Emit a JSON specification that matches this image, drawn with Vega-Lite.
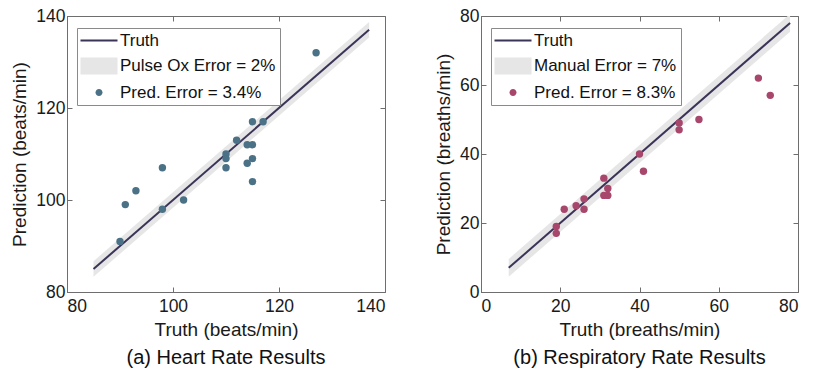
{
  "$schema": "https://vega.github.io/schema/vega-lite/v6.json",
  "background": "white",
  "padding": {"left": 10, "top": 6, "right": 5, "bottom": 5},
  "config": {
    "font": "Liberation Sans",
    "view": {"stroke": "#6e6e6e", "strokeWidth": 1},
    "axis": {
      "grid": false,
      "domainColor": "#6e6e6e",
      "tickColor": "#6e6e6e",
      "tickSize": -5,
      "labelFont": "Liberation Sans",
      "labelFontSize": 17.5,
      "labelColor": "#1a1a1a",
      "titleFont": "Liberation Sans",
      "titleFontSize": 19,
      "titleFontWeight": "normal",
      "titleColor": "#1a1a1a"
    },
    "axisX": {"labelPadding": 10, "titlePadding": 6},
    "axisY": {"labelPadding": 7, "titlePadding": 6},
    "legend": {
      "padding": 4,
      "strokeColor": "#8a8a8a",
      "fillColor": "white",
      "labelFont": "Liberation Sans",
      "labelFontSize": 17,
      "labelColor": "#111111",
      "symbolSize": 100,
      "symbolStrokeWidth": 2,
      "symbolOpacity": 1,
      "labelOffset": 22,
      "rowPadding": 4.5
    }
  },
  "datasets": {
    "hr": [
      {"truth": 127, "pred": 132, "series": "Pred. Error = 3.4%"},
      {"truth": 115, "pred": 117, "series": "Pred. Error = 3.4%"},
      {"truth": 117, "pred": 117, "series": "Pred. Error = 3.4%"},
      {"truth": 112, "pred": 113, "series": "Pred. Error = 3.4%"},
      {"truth": 114, "pred": 112, "series": "Pred. Error = 3.4%"},
      {"truth": 115, "pred": 112, "series": "Pred. Error = 3.4%"},
      {"truth": 110, "pred": 110, "series": "Pred. Error = 3.4%"},
      {"truth": 110, "pred": 109, "series": "Pred. Error = 3.4%"},
      {"truth": 110, "pred": 107, "series": "Pred. Error = 3.4%"},
      {"truth": 114, "pred": 108, "series": "Pred. Error = 3.4%"},
      {"truth": 115, "pred": 109, "series": "Pred. Error = 3.4%"},
      {"truth": 115, "pred": 104, "series": "Pred. Error = 3.4%"},
      {"truth": 98, "pred": 107, "series": "Pred. Error = 3.4%"},
      {"truth": 93, "pred": 102, "series": "Pred. Error = 3.4%"},
      {"truth": 91, "pred": 99, "series": "Pred. Error = 3.4%"},
      {"truth": 102, "pred": 100, "series": "Pred. Error = 3.4%"},
      {"truth": 98, "pred": 98, "series": "Pred. Error = 3.4%"},
      {"truth": 90, "pred": 91, "series": "Pred. Error = 3.4%"}
    ],
    "hrRef": [
      {"x": 85, "lo": 83.3, "hi": 86.7},
      {"x": 137, "lo": 135.3, "hi": 138.7}
    ],
    "rr": [
      {"truth": 70, "pred": 62, "series": "Pred. Error = 8.3%"},
      {"truth": 73, "pred": 57, "series": "Pred. Error = 8.3%"},
      {"truth": 50, "pred": 49, "series": "Pred. Error = 8.3%"},
      {"truth": 50, "pred": 47, "series": "Pred. Error = 8.3%"},
      {"truth": 55, "pred": 50, "series": "Pred. Error = 8.3%"},
      {"truth": 40, "pred": 40, "series": "Pred. Error = 8.3%"},
      {"truth": 41, "pred": 35, "series": "Pred. Error = 8.3%"},
      {"truth": 31, "pred": 33, "series": "Pred. Error = 8.3%"},
      {"truth": 32, "pred": 30, "series": "Pred. Error = 8.3%"},
      {"truth": 31, "pred": 28, "series": "Pred. Error = 8.3%"},
      {"truth": 32, "pred": 28, "series": "Pred. Error = 8.3%"},
      {"truth": 26, "pred": 27, "series": "Pred. Error = 8.3%"},
      {"truth": 26, "pred": 24, "series": "Pred. Error = 8.3%"},
      {"truth": 24, "pred": 25, "series": "Pred. Error = 8.3%"},
      {"truth": 21, "pred": 24, "series": "Pred. Error = 8.3%"},
      {"truth": 19, "pred": 19, "series": "Pred. Error = 8.3%"},
      {"truth": 19, "pred": 17, "series": "Pred. Error = 8.3%"}
    ],
    "rrRef": [
      {"x": 7, "lo": 4.4, "hi": 9.6},
      {"x": 78, "lo": 75.4, "hi": 80.6}
    ]
  },
  "spacing": 48,
  "resolve": {"scale": {"fill": "independent", "stroke": "independent", "shape": "independent"}, "legend": {"fill": "independent", "stroke": "independent", "shape": "independent"}},
  "hconcat": [
    {
      "width": 318,
      "height": 276,
      "title": {"text": "(a) Heart Rate Results", "orient": "bottom", "fontSize": 20, "fontWeight": "normal", "color": "#111111", "offset": 8, "font": "Liberation Sans"},
      "resolve": {"axis": {"x": "independent", "y": "independent"}},
      "layer": [
        {
          "data": {"name": "hrRef"},
          "mark": {"type": "area", "color": "#e6e6e6", "opacity": 1, "clip": true},
          "encoding": {
            "x": {"field": "x", "type": "quantitative", "scale": {"domain": [80, 140], "nice": false, "zero": false}, "axis": {"values": [80, 100, 120, 140], "title": "Truth (beats/min)"}},
            "y": {"field": "lo", "type": "quantitative", "scale": {"domain": [80, 140], "nice": false, "zero": false}, "axis": {"values": [80, 100, 120, 140], "title": "Prediction (beats/min)"}},
            "y2": {"field": "hi"}
          }
        },
        {
          "data": {"name": "hrRef"},
          "mark": {"type": "line", "color": "#3b3358", "strokeWidth": 2},
          "encoding": {
            "x": {"field": "x", "type": "quantitative", "axis": {"orient": "top", "values": [80, 100, 120, 140], "labels": false, "domain": false, "title": null}},
            "y": {"field": "x", "type": "quantitative", "axis": {"orient": "right", "values": [80, 100, 120, 140], "labels": false, "domain": false, "title": null}}
          }
        },
        {
          "data": {"name": "hr"},
          "mark": {"type": "point", "filled": true, "size": 55, "opacity": 1, "color": "#4a7186", "shape": "circle"},
          "encoding": {
            "x": {"field": "truth", "type": "quantitative", "axis": null},
            "y": {"field": "pred", "type": "quantitative", "axis": null}
          }
        },
        {
          "data": {"name": "hr"},
          "transform": [{"filter": "datum.truth < 0"}],
          "mark": {"type": "point", "filled": true},
          "encoding": {
            "x": {"field": "truth", "type": "quantitative", "axis": null},
            "y": {"field": "pred", "type": "quantitative", "axis": null},
            "fill": {
              "field": "series", "type": "nominal",
              "scale": {"domain": ["Truth", "Pulse Ox Error = 2%", "Pred. Error = 3.4%"], "range": ["transparent", "#e6e6e6", "#4a7186"]},
              "legend": {"title": null, "orient": "none", "legendX": 10, "legendY": 12}
            },
            "stroke": {
              "field": "series", "type": "nominal",
              "scale": {"domain": ["Truth", "Pulse Ox Error = 2%", "Pred. Error = 3.4%"], "range": ["#3b3358", "transparent", "transparent"]},
              "legend": {"title": null, "orient": "none", "legendX": 10, "legendY": 12}
            },
            "shape": {
              "field": "series", "type": "nominal",
              "scale": {"domain": ["Truth", "Pulse Ox Error = 2%", "Pred. Error = 3.4%"], "range": ["M-1.8,0H5.6", "M-1.8,-1.7H5.6V1.7H-1.8Z", "M1.2,0A0.7,0.7,0,1,1,2.6,0A0.7,0.7,0,1,1,1.2,0Z"]},
              "legend": {"title": null, "orient": "none", "legendX": 10, "legendY": 12}
            }
          }
        }
      ]
    },
    {
      "width": 317,
      "height": 276,
      "title": {"text": "(b) Respiratory Rate Results", "orient": "bottom", "fontSize": 20, "fontWeight": "normal", "color": "#111111", "offset": 8, "font": "Liberation Sans"},
      "resolve": {"axis": {"x": "independent", "y": "independent"}},
      "layer": [
        {
          "data": {"name": "rrRef"},
          "mark": {"type": "area", "color": "#e6e6e6", "opacity": 1, "clip": true},
          "encoding": {
            "x": {"field": "x", "type": "quantitative", "scale": {"domain": [0, 80], "nice": false}, "axis": {"values": [0, 20, 40, 60, 80], "title": "Truth (breaths/min)"}},
            "y": {"field": "lo", "type": "quantitative", "scale": {"domain": [0, 80], "nice": false}, "axis": {"values": [0, 20, 40, 60, 80], "title": "Prediction (breaths/min)"}},
            "y2": {"field": "hi"}
          }
        },
        {
          "data": {"name": "rrRef"},
          "mark": {"type": "line", "color": "#3b3358", "strokeWidth": 2},
          "encoding": {
            "x": {"field": "x", "type": "quantitative", "axis": {"orient": "top", "values": [0, 20, 40, 60, 80], "labels": false, "domain": false, "title": null}},
            "y": {"field": "x", "type": "quantitative", "axis": {"orient": "right", "values": [0, 20, 40, 60, 80], "labels": false, "domain": false, "title": null}}
          }
        },
        {
          "data": {"name": "rr"},
          "mark": {"type": "point", "filled": true, "size": 55, "opacity": 1, "color": "#a8476c", "shape": "circle"},
          "encoding": {
            "x": {"field": "truth", "type": "quantitative", "axis": null},
            "y": {"field": "pred", "type": "quantitative", "axis": null}
          }
        },
        {
          "data": {"name": "rr"},
          "transform": [{"filter": "datum.truth < 0"}],
          "mark": {"type": "point", "filled": true},
          "encoding": {
            "x": {"field": "truth", "type": "quantitative", "axis": null},
            "y": {"field": "pred", "type": "quantitative", "axis": null},
            "fill": {
              "field": "series", "type": "nominal",
              "scale": {"domain": ["Truth", "Manual Error = 7%", "Pred. Error = 8.3%"], "range": ["transparent", "#e6e6e6", "#a8476c"]},
              "legend": {"title": null, "orient": "none", "legendX": 10, "legendY": 12}
            },
            "stroke": {
              "field": "series", "type": "nominal",
              "scale": {"domain": ["Truth", "Manual Error = 7%", "Pred. Error = 8.3%"], "range": ["#3b3358", "transparent", "transparent"]},
              "legend": {"title": null, "orient": "none", "legendX": 10, "legendY": 12}
            },
            "shape": {
              "field": "series", "type": "nominal",
              "scale": {"domain": ["Truth", "Manual Error = 7%", "Pred. Error = 8.3%"], "range": ["M-1.8,0H5.6", "M-1.8,-1.7H5.6V1.7H-1.8Z", "M1.2,0A0.7,0.7,0,1,1,2.6,0A0.7,0.7,0,1,1,1.2,0Z"]},
              "legend": {"title": null, "orient": "none", "legendX": 10, "legendY": 12}
            }
          }
        }
      ]
    }
  ]
}
